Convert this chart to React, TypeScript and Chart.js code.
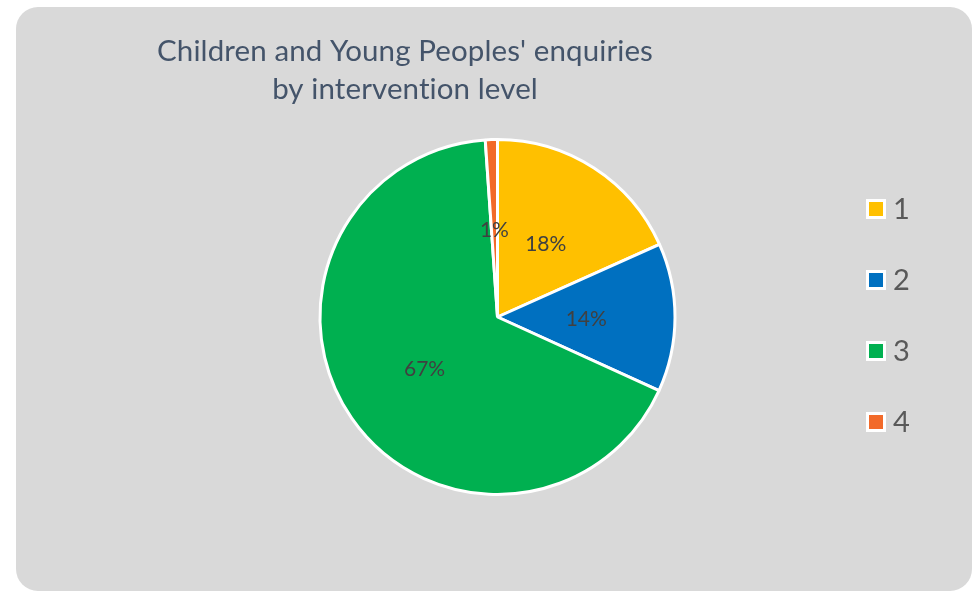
import React, { useEffect, useRef } from "react";
import { Chart, registerables } from "chart.js";

Chart.register(...registerables);

// ---- data ----
const categories = ["1", "2", "3", "4"];
const values = [18.3, 13.5, 67.1, 1.1];
const sliceColors = ["#FFC000", "#0070C0", "#00B050", "#F26A2A"];
const titleLines = ["Children and Young Peoples' enquiries", "by intervention level"];

const FONT = "Lato, 'Open Sans', sans-serif";

const overlayPlugin = {
  id: "overlay",
  afterDatasetsDraw(chart: any) {
    const ctx = chart.ctx;
    const meta = chart.getDatasetMeta(0);
    const data = chart.data.datasets[0].data as number[];
    const total = data.reduce((a, b) => a + b, 0);
    ctx.save();
    ctx.font = `21px ${FONT}`;
    ctx.fillStyle = "#404040";
    ctx.textAlign = "center";
    ctx.textBaseline = "middle";
    meta.data.forEach((arc: any, i: number) => {
      const p = arc.tooltipPosition(false);
      ctx.fillText(Math.round((data[i] / total) * 100) + "%", p.x, p.y + 2);
    });
    ctx.restore();
  },
  afterDraw(chart: any) {
    const ctx = chart.ctx;
    ctx.save();
    // title
    ctx.font = `29.5px ${FONT}`;
    if ("letterSpacing" in ctx) (ctx as any).letterSpacing = "0.1px";
    ctx.fillStyle = "#44546A";
    ctx.textAlign = "center";
    ctx.textBaseline = "alphabetic";
    titleLines.forEach((line, i) => {
      ctx.fillText(line, 389, 54 + i * 38);
    });
    if ("letterSpacing" in ctx) (ctx as any).letterSpacing = "0px";
    // legend
    const labels = chart.data.labels as string[];
    const colors = chart.data.datasets[0].backgroundColor as string[];
    ctx.font = `29px ${FONT}`;
    ctx.textAlign = "left";
    ctx.textBaseline = "middle";
    labels.forEach((lab, i) => {
      const cy = 202 + i * 71;
      ctx.fillStyle = colors[i];
      ctx.fillRect(851.5, cy - 8.5, 17, 17);
      ctx.strokeStyle = "#FFFFFF";
      ctx.lineWidth = 3;
      ctx.strokeRect(851.5, cy - 8.5, 17, 17);
      ctx.fillStyle = "#595959";
      ctx.fillText(lab, 877, cy + 1);
    });
    ctx.restore();
  },
};

export default function App() {
  const ref = useRef<HTMLCanvasElement | null>(null);
  useEffect(() => {
    if (!ref.current) return;
    const chart = new Chart(ref.current, {
      type: "pie",
      data: {
        labels: categories,
        datasets: [
          {
            data: values,
            backgroundColor: sliceColors,
            borderColor: "#FFFFFF",
            borderWidth: 3,
          },
        ],
      },
      options: {
        responsive: false,
        animation: false,
        layout: { padding: { left: 302, right: 295, top: 131, bottom: 95 } },
        plugins: {
          legend: { display: false },
          title: { display: false },
          tooltip: { enabled: false },
        },
      },
      plugins: [overlayPlugin],
    });
    return () => chart.destroy();
  }, []);
  return (
    <div
      style={{
        position: "absolute",
        left: 16,
        top: 7,
        width: 956,
        height: 584,
        background: "#D9D9D9",
        borderRadius: 22,
        overflow: "hidden",
      }}
    >
      <canvas ref={ref} width={956} height={584} style={{ display: "block" }} />
    </div>
  );
}
